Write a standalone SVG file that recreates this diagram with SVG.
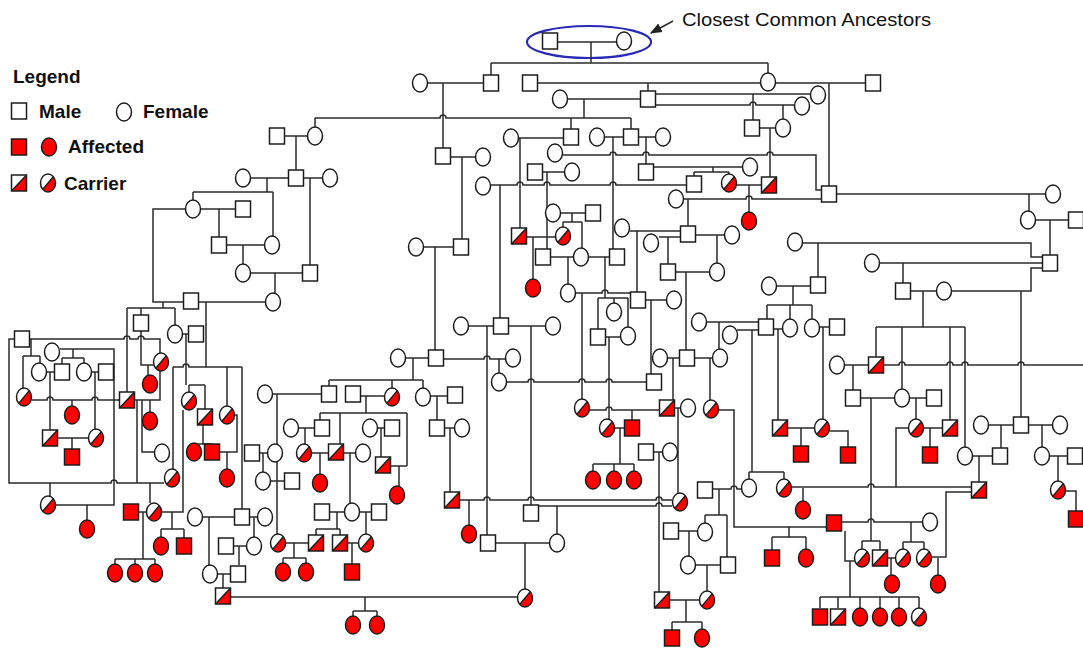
<svg xmlns="http://www.w3.org/2000/svg" xmlns:xlink="http://www.w3.org/1999/xlink" width="1083" height="649" viewBox="0 0 1083 649">
<style>
.l{fill:none;stroke:#2b2b2b;stroke-width:1.5}
.s{stroke:#1c1c1c;stroke-width:1.5}
.w{fill:#fff}
.r{fill:#f00}
.o{fill:none}
.t{font-family:"Liberation Sans",Arial,sans-serif;fill:#111}
.b{font-weight:bold;font-size:19px}
</style>
<defs>
<rect id="M" class="s w" x="-7.5" y="-8" width="15" height="16"/>
<ellipse id="F" class="s w" rx="7.5" ry="9"/>
<rect id="AM" class="s r" x="-7.5" y="-8" width="15" height="16"/>
<ellipse id="AF" class="s r" rx="7.5" ry="9"/>
<g id="CM"><rect class="w" x="-7.5" y="-8" width="15" height="16"/><polygon class="r" points="-7.5,8 7.5,-8 7.5,8"/><rect class="s o" x="-7.5" y="-8" width="15" height="16"/><path class="s" d="M-7.5,8L7.5,-8"/></g>
<g id="CF"><ellipse class="w" rx="7.5" ry="9"/><path class="r" d="M5.3,-6.36A7.5,9 0 0 1 -5.3,6.36Z"/><ellipse class="s o" rx="7.5" ry="9"/><path class="s" d="M5.3,-6.36L-5.3,6.36"/></g>
<marker id="ah" viewBox="0 0 10 10" refX="9" refY="5" markerWidth="8" markerHeight="8" orient="auto"><path d="M0,1L10,5L0,9z" fill="#222"/></marker>
</defs>
<rect width="1083" height="649" fill="#fff"/>
<g id="legend" class="t">
<text x="13" y="83" class="t b">Legend</text>
<use href="#M" x="19" y="111"/><text x="39" y="118" class="t b">Male</text>
<use href="#F" x="124" y="112"/><text x="143" y="118" class="t b">Female</text>
<use href="#AM" x="19" y="147"/><use href="#AF" x="49" y="147"/><text x="68" y="153" class="t b">Affected</text>
<use href="#CM" x="19" y="183"/><use href="#CF" x="48" y="183"/><text x="64" y="190" class="t b">Carrier</text>
</g>
<g id="annotation">
<ellipse cx="589" cy="42" rx="62" ry="16" fill="none" stroke="#2a2ab8" stroke-width="2.2"/>
<path d="M673,21L651,33" class="l" marker-end="url(#ah)"/>
<text x="682" y="26" class="t" font-size="19" textLength="249" lengthAdjust="spacingAndGlyphs">Closest Common Ancestors</text>
</g>
<g id="connectors" class="l">
<path d="M557,42H617M591,42V63M491,63H768M491,63V75M768,63V73M428,83H484M443,83V148M537,83H760M776,83H866M829,83V186M648,83V91M568,99H641M584,99V118M315,118H440a3,3 0 0 1 6,0H631M315,118V127M571,118V129M631,118V129M655,94H811M655,105H750a3,3 0 0 1 6,0H794M753,94V120M783,105V119M759,128H776M770,128V177"/>
<path d="M284,136H308M296,136V170M251,178H322M267,178V192M193,192H273M193,192V200M273,192V236M310,178V265M201,209H236M219,209V237M185,209H153V302H184M226,245H264M243,245V264M251,273H303M275,273V293M198,302H265"/>
<path d="M519,138H564M520,138V228M604,137H624M638,137H655M613,137V249M646,137V164M563,155H610a3,3 0 0 1 6,0H643a3,3 0 0 1 6,0H767a3,3 0 0 1 6,0H816V190H822M450,157H475M462,157V239M542,172H564M547,172V249M653,167H742M713,167V172M694,172H729M694,172V176M729,172V174M491,185H517a3,3 0 0 1 6,0H544a3,3 0 0 1 6,0H610a3,3 0 0 1 6,0H687M500,185V318M737,185H762M749,185V212M684,199H746a3,3 0 0 1 6,0H822M688,199V226M836,194H1045M1029,194V211M1036,220H1069M1050,220V255"/>
<path d="M561,213H586M572,213V222M563,222H582M563,222V227M582,222V248M630,231H681M637,231V292M659,237H681M668,237V264M695,235H724M717,235V263M526,237H555M533,237V279M424,247H454M435,247V350M550,257H610M568,257V284M605,257V298M598,298H628M598,298V329M614,298V303M628,298V327M675,272H709M686,272V350M573,293H602a3,3 0 0 1 6,0H631M582,293V399M645,300H666M651,300V374"/>
<path d="M803,243H1031V257H1043M880,263H1043M903,263V283M910,291H936M951,291H1031V268H1043M923,291V327M876,327H965M876,327V357M902,327V389M950,327V420M965,327V447M1021,291V417M818,243V277M777,286H811M793,286V305M767,305H812M767,305V319M790,305V319M812,305V319M819,327H830M823,327V419M706,322H759M719,322V349M737,330H759M752,330V472M749,472H784M749,472V479M784,472V479M773,329H783M778,329V420"/>
<path d="M844,365H869M883,365H899a3,3 0 0 1 6,0H947a3,3 0 0 1 6,0H962a3,3 0 0 1 6,0H1018a3,3 0 0 1 6,0H1083M853,365V390M860,398H894M871,398V541M910,398H927M916,398V419M989,425H1053M1001,425V448M1042,425V447M972,456H993M979,456V482M1050,456H1067M1058,456V481M1066,491H1076V511M924,428H943M930,428V447"/>
<path d="M469,326H545M487,326V535M531,326V505M406,358H429M413,358V380M329,380H423M329,380V386M392,380V388M423,380V388M444,359H484a3,3 0 0 1 6,0H505M499,359V373M507,382H528a3,3 0 0 1 6,0H579a3,3 0 0 1 6,0H606a3,3 0 0 1 6,0H647M273,394H322M277,394V534M360,396H385M366,396V413M320,413H407M320,413V420M340,413V444M407,413V466M431,396H448M437,396V420M299,428H315M305,428V444M378,428H385M381,428V457M444,428H455M450,428V492"/>
<path d="M311,453H356M320,453V474M350,453V503M390,466H407M399,466V486M329,512H372M337,512V529M316,529H340M316,529V535M340,529V535M366,512V534M286,543H309M294,543V558M283,558H306M283,558V563M306,558V563M347,543H358M352,543V564M459,500H484a3,3 0 0 1 6,0H528a3,3 0 0 1 6,0H656a3,3 0 0 1 6,0H672M469,500V525M538,506H656a3,3 0 0 1 6,0H672M495,543H549M525,543V589M557,506V534M230,597H517M365,597V611M353,611H377M353,611V616M377,611V616"/>
<path d="M668,358H713M673,358V400M710,358V401M590,410H606a3,3 0 0 1 6,0H660M605,337H620M609,337V419M632,410V420M615,428H625M620,428V464M593,464H634M593,464V471M614,464V471M634,464V471M674,408H680M678,408V493M718,410H734V527H827M789,527V537M772,537H806M772,537V550M806,537V549M653,452H662M659,452V592M712,489H731a3,3 0 0 1 6,0H741M719,489V515M705,515H727M705,515V523M727,515V557M678,531H697M689,531V556M696,565H721M707,565V591M669,600H699M686,600V622M672,622H702M672,622V630M702,622V629"/>
<path d="M792,487H868a3,3 0 0 1 6,0H972M803,488V501M972,492H946V557H931M938,558V576M787,428H815M801,428V446M830,431H848V447M908,428H896V487M841,522H868a3,3 0 0 1 6,0H922M911,522V542M903,542H924M903,542V549M924,542V549M862,541H880M862,541V549M880,541V550M887,558H895M891,558V575M845,531V561H854M850,561V597M820,597H919M820,597V608M838,597V608M860,597V608M880,597V608M899,597V608M919,597V608"/>
<path d="M163,302V308M127,308H175M127,308V392M141,308V315M175,308V325M182,334H189M186,334V385M189,385H205M189,385V392M205,385V409M206,302V367M173,367H183a3,3 0 0 1 6,0H242M173,367V469M227,367V406M242,367V509M15,339H9V483H111a3,3 0 0 1 6,0H164M29,339H124a3,3 0 0 1 6,0H138a3,3 0 0 1 6,0H160V353M31,339V356M23,356H40M23,356V388M40,356V363M60,349H114V505H56M73,349V358M62,358H84M62,358V364M84,358V363M47,372H55M50,372V430M92,372H99M95,372V429M32,400H47a3,3 0 0 1 6,0H92a3,3 0 0 1 6,0H120M72,400V406M57,438H88M72,438V449M50,483V496M87,505V520"/>
<path d="M141,331V365H153M148,365V375M134,400H160V371M150,400V412M142,400V452H155M137,400V483M150,483V503M138,512H146M143,512V559M115,559H155M115,559V564M135,559V564M155,559V564M162,512H183V410M172,512V529M161,529H184M161,529V537M184,529V538M203,425V444M194,444H212M234,415H237V452H219M227,452V469M259,453H267M263,453V472M271,481H285M203,517H257M209,517V565M254,517V537M233,546H246M239,546V565M217,574H231M223,574V588"/>
</g>
<g id="nodes">
<g id="n1"><use href="#M" x="550" y="41"/></g>
<g id="n2"><use href="#F" x="624" y="41"/></g>
<g id="n3"><use href="#F" x="420" y="83"/></g>
<g id="n4"><use href="#M" x="491" y="83"/></g>
<g id="n5"><use href="#M" x="530" y="83"/></g>
<g id="n6"><use href="#F" x="768" y="82"/></g>
<g id="n7"><use href="#M" x="873" y="83"/></g>
<g id="n8"><use href="#F" x="560" y="99"/></g>
<g id="n9"><use href="#M" x="648" y="99"/></g>
<g id="n10"><use href="#F" x="818" y="95"/></g>
<g id="n11"><use href="#F" x="802" y="106"/></g>
<g id="n12"><use href="#M" x="752" y="128"/></g>
<g id="n13"><use href="#F" x="783" y="128"/></g>
<g id="n14"><use href="#M" x="277" y="136"/></g>
<g id="n15"><use href="#F" x="315" y="136"/></g>
<g id="n16"><use href="#F" x="511" y="138"/></g>
<g id="n17"><use href="#M" x="571" y="137"/></g>
<g id="n18"><use href="#F" x="597" y="137"/></g>
<g id="n19"><use href="#M" x="631" y="137"/></g>
<g id="n20"><use href="#F" x="663" y="137"/></g>
<g id="n21"><use href="#F" x="555" y="153"/></g>
<g id="n22"><use href="#M" x="443" y="156"/></g>
<g id="n23"><use href="#F" x="483" y="157"/></g>
<g id="n24"><use href="#F" x="750" y="167"/></g>
<g id="n25"><use href="#M" x="535" y="172"/></g>
<g id="n26"><use href="#F" x="572" y="172"/></g>
<g id="n27"><use href="#M" x="646" y="172"/></g>
<g id="n28"><use href="#F" x="243" y="178"/></g>
<g id="n29"><use href="#M" x="296" y="178"/></g>
<g id="n30"><use href="#F" x="330" y="178"/></g>
<g id="n31"><use href="#F" x="483" y="186"/></g>
<g id="n32"><use href="#M" x="694" y="184"/></g>
<g id="n33"><use href="#CF" x="729" y="183"/></g>
<g id="n34"><use href="#CM" x="769" y="185"/></g>
<g id="n35"><use href="#F" x="676" y="199"/></g>
<g id="n36"><use href="#M" x="829" y="194"/></g>
<g id="n37"><use href="#F" x="1053" y="194"/></g>
<g id="n38"><use href="#F" x="193" y="209"/></g>
<g id="n39"><use href="#M" x="243" y="209"/></g>
<g id="n40"><use href="#F" x="553" y="213"/></g>
<g id="n41"><use href="#M" x="593" y="213"/></g>
<g id="n42"><use href="#AF" x="749" y="221"/></g>
<g id="n43"><use href="#F" x="1028" y="220"/></g>
<g id="n44"><use href="#M" x="1076" y="220"/></g>
<g id="n45"><use href="#F" x="622" y="228"/></g>
<g id="n46"><use href="#M" x="688" y="234"/></g>
<g id="n47"><use href="#F" x="732" y="235"/></g>
<g id="n48"><use href="#F" x="651" y="243"/></g>
<g id="n49"><use href="#F" x="795" y="242"/></g>
<g id="n50"><use href="#CM" x="519" y="236"/></g>
<g id="n51"><use href="#CF" x="563" y="236"/></g>
<g id="n52"><use href="#M" x="219" y="245"/></g>
<g id="n53"><use href="#F" x="272" y="245"/></g>
<g id="n54"><use href="#F" x="416" y="247"/></g>
<g id="n55"><use href="#M" x="461" y="247"/></g>
<g id="n56"><use href="#M" x="543" y="257"/></g>
<g id="n57"><use href="#F" x="581" y="257"/></g>
<g id="n58"><use href="#M" x="617" y="257"/></g>
<g id="n59"><use href="#M" x="1050" y="263"/></g>
<g id="n60"><use href="#F" x="872" y="263"/></g>
<g id="n61"><use href="#M" x="668" y="272"/></g>
<g id="n62"><use href="#F" x="717" y="272"/></g>
<g id="n63"><use href="#F" x="243" y="273"/></g>
<g id="n64"><use href="#M" x="310" y="273"/></g>
<g id="n65"><use href="#AF" x="533" y="288"/></g>
<g id="n66"><use href="#F" x="568" y="293"/></g>
<g id="n67"><use href="#M" x="818" y="285"/></g>
<g id="n68"><use href="#F" x="769" y="286"/></g>
<g id="n69"><use href="#M" x="903" y="291"/></g>
<g id="n70"><use href="#F" x="944" y="291"/></g>
<g id="n71"><use href="#F" x="273" y="302"/></g>
<g id="n72"><use href="#M" x="191" y="301"/></g>
<g id="n73"><use href="#M" x="638" y="300"/></g>
<g id="n74"><use href="#F" x="674" y="300"/></g>
<g id="n75"><use href="#F" x="614" y="312"/></g>
<g id="n76"><use href="#M" x="141" y="323"/></g>
<g id="n77"><use href="#F" x="699" y="322"/></g>
<g id="n78"><use href="#F" x="461" y="326"/></g>
<g id="n79"><use href="#M" x="501" y="326"/></g>
<g id="n80"><use href="#F" x="553" y="326"/></g>
<g id="n81"><use href="#M" x="766" y="327"/></g>
<g id="n82"><use href="#F" x="790" y="328"/></g>
<g id="n83"><use href="#F" x="812" y="328"/></g>
<g id="n84"><use href="#M" x="837" y="327"/></g>
<g id="n85"><use href="#F" x="175" y="334"/></g>
<g id="n86"><use href="#M" x="196" y="334"/></g>
<g id="n87"><use href="#M" x="598" y="337"/></g>
<g id="n88"><use href="#F" x="628" y="336"/></g>
<g id="n89"><use href="#F" x="730" y="335"/></g>
<g id="n90"><use href="#M" x="22" y="339"/></g>
<g id="n91"><use href="#F" x="52" y="352"/></g>
<g id="n92"><use href="#F" x="398" y="358"/></g>
<g id="n93"><use href="#M" x="436" y="358"/></g>
<g id="n94"><use href="#F" x="513" y="358"/></g>
<g id="n95"><use href="#F" x="660" y="358"/></g>
<g id="n96"><use href="#M" x="687" y="358"/></g>
<g id="n97"><use href="#F" x="720" y="358"/></g>
<g id="n98"><use href="#CF" x="161" y="362"/></g>
<g id="n99"><use href="#CM" x="876" y="365"/></g>
<g id="n100"><use href="#F" x="837" y="365"/></g>
<g id="n101"><use href="#F" x="39" y="372"/></g>
<g id="n102"><use href="#M" x="62" y="372"/></g>
<g id="n103"><use href="#F" x="84" y="372"/></g>
<g id="n104"><use href="#M" x="106" y="372"/></g>
<g id="n105"><use href="#F" x="499" y="382"/></g>
<g id="n106"><use href="#M" x="654" y="382"/></g>
<g id="n107"><use href="#AF" x="150" y="384"/></g>
<g id="n108"><use href="#F" x="265" y="394"/></g>
<g id="n109"><use href="#M" x="329" y="394"/></g>
<g id="n110"><use href="#M" x="353" y="394"/></g>
<g id="n111"><use href="#CF" x="392" y="397"/></g>
<g id="n112"><use href="#F" x="423" y="397"/></g>
<g id="n113"><use href="#M" x="455" y="395"/></g>
<g id="n114"><use href="#CF" x="24" y="397"/></g>
<g id="n115"><use href="#M" x="853" y="398"/></g>
<g id="n116"><use href="#F" x="902" y="398"/></g>
<g id="n117"><use href="#M" x="934" y="398"/></g>
<g id="n118"><use href="#CM" x="127" y="400"/></g>
<g id="n119"><use href="#CF" x="189" y="401"/></g>
<g id="n120"><use href="#CF" x="582" y="408"/></g>
<g id="n121"><use href="#CM" x="667" y="408"/></g>
<g id="n122"><use href="#F" x="688" y="408"/></g>
<g id="n123"><use href="#CF" x="711" y="409"/></g>
<g id="n124"><use href="#AF" x="72" y="415"/></g>
<g id="n125"><use href="#AF" x="150" y="421"/></g>
<g id="n126"><use href="#CM" x="205" y="417"/></g>
<g id="n127"><use href="#CF" x="227" y="415"/></g>
<g id="n128"><use href="#F" x="291" y="428"/></g>
<g id="n129"><use href="#M" x="322" y="428"/></g>
<g id="n130"><use href="#F" x="370" y="428"/></g>
<g id="n131"><use href="#M" x="392" y="428"/></g>
<g id="n132"><use href="#M" x="437" y="428"/></g>
<g id="n133"><use href="#F" x="462" y="428"/></g>
<g id="n134"><use href="#CF" x="607" y="428"/></g>
<g id="n135"><use href="#AM" x="632" y="428"/></g>
<g id="n136"><use href="#CM" x="780" y="428"/></g>
<g id="n137"><use href="#CF" x="822" y="428"/></g>
<g id="n138"><use href="#CF" x="916" y="428"/></g>
<g id="n139"><use href="#CM" x="950" y="428"/></g>
<g id="n140"><use href="#F" x="981" y="425"/></g>
<g id="n141"><use href="#M" x="1021" y="425"/></g>
<g id="n142"><use href="#F" x="1060" y="425"/></g>
<g id="n143"><use href="#CM" x="50" y="438"/></g>
<g id="n144"><use href="#CF" x="96" y="438"/></g>
<g id="n145"><use href="#AM" x="72" y="457"/></g>
<g id="n146"><use href="#F" x="162" y="453"/></g>
<g id="n147"><use href="#AF" x="194" y="452"/></g>
<g id="n148"><use href="#AM" x="212" y="452"/></g>
<g id="n149"><use href="#M" x="252" y="453"/></g>
<g id="n150"><use href="#F" x="275" y="453"/></g>
<g id="n151"><use href="#CF" x="304" y="453"/></g>
<g id="n152"><use href="#CM" x="336" y="452"/></g>
<g id="n153"><use href="#F" x="363" y="453"/></g>
<g id="n154"><use href="#CM" x="383" y="465"/></g>
<g id="n155"><use href="#M" x="646" y="452"/></g>
<g id="n156"><use href="#F" x="670" y="452"/></g>
<g id="n157"><use href="#AM" x="801" y="454"/></g>
<g id="n158"><use href="#AM" x="848" y="455"/></g>
<g id="n159"><use href="#AM" x="930" y="455"/></g>
<g id="n160"><use href="#F" x="965" y="456"/></g>
<g id="n161"><use href="#M" x="1000" y="456"/></g>
<g id="n162"><use href="#F" x="1042" y="456"/></g>
<g id="n163"><use href="#M" x="1075" y="456"/></g>
<g id="n164"><use href="#CF" x="172" y="478"/></g>
<g id="n165"><use href="#AF" x="227" y="478"/></g>
<g id="n166"><use href="#F" x="263" y="481"/></g>
<g id="n167"><use href="#M" x="292" y="481"/></g>
<g id="n168"><use href="#AF" x="320" y="483"/></g>
<g id="n169"><use href="#AF" x="593" y="480"/></g>
<g id="n170"><use href="#AF" x="614" y="480"/></g>
<g id="n171"><use href="#AF" x="634" y="480"/></g>
<g id="n172"><use href="#CM" x="452" y="500"/></g>
<g id="n173"><use href="#AF" x="397" y="495"/></g>
<g id="n174"><use href="#CF" x="680" y="502"/></g>
<g id="n175"><use href="#M" x="705" y="490"/></g>
<g id="n176"><use href="#F" x="749" y="488"/></g>
<g id="n177"><use href="#CF" x="784" y="488"/></g>
<g id="n178"><use href="#CM" x="979" y="490"/></g>
<g id="n179"><use href="#CF" x="1058" y="490"/></g>
<g id="n180"><use href="#CF" x="48" y="505"/></g>
<g id="n181"><use href="#AM" x="131" y="512"/></g>
<g id="n182"><use href="#CF" x="154" y="512"/></g>
<g id="n183"><use href="#F" x="195" y="517"/></g>
<g id="n184"><use href="#M" x="242" y="517"/></g>
<g id="n185"><use href="#F" x="265" y="517"/></g>
<g id="n186"><use href="#M" x="322" y="512"/></g>
<g id="n187"><use href="#F" x="352" y="512"/></g>
<g id="n188"><use href="#M" x="379" y="512"/></g>
<g id="n189"><use href="#M" x="531" y="513"/></g>
<g id="n190"><use href="#AF" x="803" y="510"/></g>
<g id="n191"><use href="#AM" x="1076" y="519"/></g>
<g id="n192"><use href="#AF" x="87" y="529"/></g>
<g id="n193"><use href="#AM" x="834" y="523"/></g>
<g id="n194"><use href="#F" x="930" y="522"/></g>
<g id="n195"><use href="#M" x="671" y="531"/></g>
<g id="n196"><use href="#F" x="705" y="532"/></g>
<g id="n197"><use href="#AF" x="469" y="534"/></g>
<g id="n198"><use href="#CF" x="278" y="543"/></g>
<g id="n199"><use href="#CM" x="316" y="543"/></g>
<g id="n200"><use href="#CM" x="340" y="543"/></g>
<g id="n201"><use href="#CF" x="366" y="543"/></g>
<g id="n202"><use href="#M" x="488" y="543"/></g>
<g id="n203"><use href="#F" x="557" y="543"/></g>
<g id="n204"><use href="#AF" x="161" y="546"/></g>
<g id="n205"><use href="#AM" x="184" y="546"/></g>
<g id="n206"><use href="#M" x="226" y="546"/></g>
<g id="n207"><use href="#F" x="254" y="546"/></g>
<g id="n208"><use href="#AM" x="772" y="558"/></g>
<g id="n209"><use href="#AF" x="806" y="558"/></g>
<g id="n210"><use href="#CF" x="862" y="558"/></g>
<g id="n211"><use href="#CM" x="880" y="558"/></g>
<g id="n212"><use href="#CF" x="903" y="558"/></g>
<g id="n213"><use href="#CF" x="924" y="558"/></g>
<g id="n214"><use href="#F" x="688" y="565"/></g>
<g id="n215"><use href="#M" x="728" y="565"/></g>
<g id="n216"><use href="#AF" x="115" y="573"/></g>
<g id="n217"><use href="#AF" x="135" y="573"/></g>
<g id="n218"><use href="#AF" x="155" y="573"/></g>
<g id="n219"><use href="#F" x="210" y="574"/></g>
<g id="n220"><use href="#M" x="238" y="574"/></g>
<g id="n221"><use href="#AF" x="283" y="572"/></g>
<g id="n222"><use href="#AF" x="306" y="572"/></g>
<g id="n223"><use href="#AM" x="352" y="572"/></g>
<g id="n224"><use href="#AF" x="892" y="584"/></g>
<g id="n225"><use href="#AF" x="938" y="584"/></g>
<g id="n226"><use href="#CM" x="223" y="596"/></g>
<g id="n227"><use href="#CF" x="525" y="598"/></g>
<g id="n228"><use href="#CM" x="662" y="600"/></g>
<g id="n229"><use href="#CF" x="707" y="600"/></g>
<g id="n230"><use href="#AM" x="820" y="617"/></g>
<g id="n231"><use href="#CM" x="838" y="617"/></g>
<g id="n232"><use href="#AF" x="860" y="617"/></g>
<g id="n233"><use href="#AF" x="880" y="617"/></g>
<g id="n234"><use href="#AF" x="899" y="617"/></g>
<g id="n235"><use href="#CF" x="919" y="617"/></g>
<g id="n236"><use href="#AF" x="353" y="625"/></g>
<g id="n237"><use href="#AF" x="377" y="625"/></g>
<g id="n238"><use href="#AM" x="672" y="638"/></g>
<g id="n239"><use href="#AF" x="702" y="638"/></g>
</g>
</svg>
